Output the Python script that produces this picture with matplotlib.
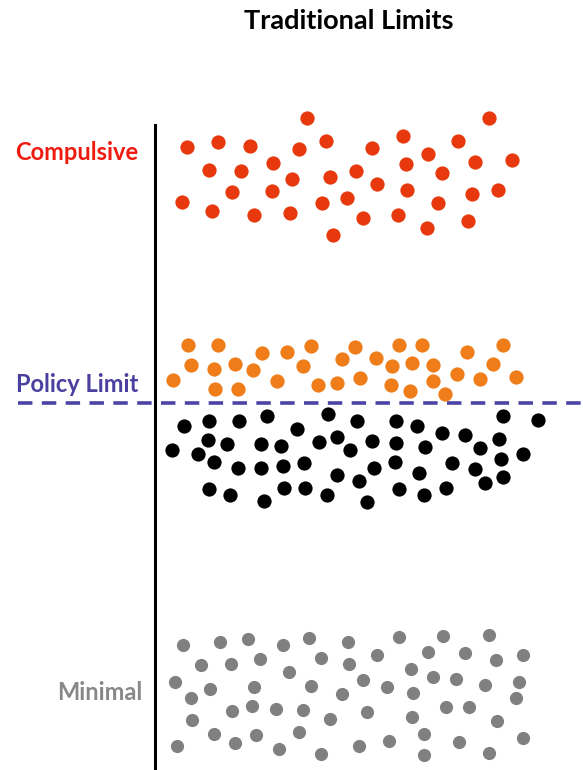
import numpy as np
import matplotlib.pyplot as plt

# point positions (pixel units, y down)
compulsive_x = [307, 489, 187, 218, 250, 299, 326, 372, 403, 458, 428, 209, 241, 273, 292,
                330, 356, 406, 442, 475, 512, 232, 272, 377, 407, 472, 498, 182, 212, 254,
                290, 322, 347, 438, 363, 398, 427, 468, 333]
compulsive_y = [118, 118, 147, 142, 146, 149, 141, 148, 136, 141, 154, 170, 171, 163, 179,
                177, 171, 164, 173, 162, 160, 192, 191, 184, 190, 194, 190, 202, 211, 215,
                213, 203, 198, 203, 218, 215, 228, 221, 235]

policy_x = [188, 218, 191, 214, 235, 262, 287, 311, 303, 253, 173, 215, 238, 277, 318,
            337, 342, 355, 360, 376, 399, 422, 392, 412, 433, 391, 410, 433, 445, 457,
            467, 480, 493, 503, 516]
policy_y = [345, 345, 365, 369, 364, 353, 352, 346, 366, 370, 380, 389, 389, 381, 385,
            383, 359, 347, 378, 358, 345, 345, 366, 363, 365, 385, 391, 381, 394, 374,
            352, 379, 364, 345, 377]

normal_x = [184, 209, 239, 267, 297, 328, 357, 396, 417, 503, 538, 172, 198, 208, 227,
            261, 281, 319, 337, 350, 372, 396, 425, 442, 465, 480, 499, 523, 501, 214,
            238, 261, 283, 304, 337, 374, 395, 419, 452, 475, 503, 485, 359, 209, 230,
            264, 284, 305, 327, 367, 399, 424, 446]
normal_y = [426, 421, 421, 416, 429, 414, 421, 421, 426, 416, 420, 450, 454, 440, 444,
            444, 446, 442, 437, 450, 441, 443, 447, 433, 435, 448, 439, 454, 459, 462,
            468, 468, 466, 463, 475, 468, 462, 473, 463, 469, 477, 483, 481, 489, 495,
            501, 488, 488, 495, 502, 489, 495, 488]

minimal_x = [183, 220, 248, 283, 309, 348, 399, 443, 489, 201, 231, 260, 289, 321, 349,
             377, 411, 428, 465, 496, 523, 175, 210, 254, 311, 363, 387, 433, 456, 485,
             519, 191, 232, 252, 276, 303, 342, 413, 516, 192, 330, 367, 412, 446, 469,
             497, 214, 177, 235, 256, 299, 279, 321, 359, 389, 424, 459, 523, 424, 489]
minimal_y = [645, 642, 639, 645, 638, 642, 637, 636, 635, 665, 664, 659, 672, 658, 664,
             655, 669, 652, 653, 660, 655, 682, 689, 687, 686, 680, 687, 677, 679, 685,
             682, 698, 711, 706, 709, 710, 694, 693, 698, 720, 719, 712, 717, 707, 707,
             721, 734, 746, 743, 735, 732, 749, 754, 746, 741, 734, 742, 738, 755, 753]

policy_limit = 403
title = "Traditional Limits"

W, H = 583, 770
fig = plt.figure(figsize=(W / 100, H / 100), dpi=100, facecolor="w")
ax = fig.add_axes([0, 0, 1, 1])
ax.set_xlim(0, W)
ax.set_ylim(H, 0)
ax.axis("off")

s = 105
ax.scatter(compulsive_x, compulsive_y, s=s, c="#E8380D", lw=0, zorder=3)
ax.scatter(policy_x, policy_y, s=s, c="#EE7D1A", lw=0, zorder=3)
ax.scatter(normal_x, normal_y, s=s, c="#000000", lw=0, zorder=3)
ax.scatter(minimal_x, minimal_y, s=90, c="#808080", lw=0, zorder=3)

ax.plot([155, 155], [125, H], c="black", lw=2.2, zorder=2)
ax.plot([18, W], [policy_limit, policy_limit], c="#4B44A6", lw=2.6,
        dashes=(4, 2.6), zorder=4)

ax.text(349, 29, title, ha="center", va="baseline", fontsize=19.5,
        fontweight="bold", family="Lato", color="black")
ax.text(15, 160, "Compulsive", ha="left", va="baseline", fontsize=17,
        fontweight="bold", family="Lato", color="#EF1B10")
ax.text(16, 392, "Policy Limit", ha="left", va="baseline", fontsize=17,
        fontweight="bold", family="Lato", color="#4B3FA0")
ax.text(142, 700, "Minimal", ha="right", va="baseline", fontsize=17,
        fontweight="bold", family="Lato", color="#888888")

fig.savefig("out.png", dpi=100)
